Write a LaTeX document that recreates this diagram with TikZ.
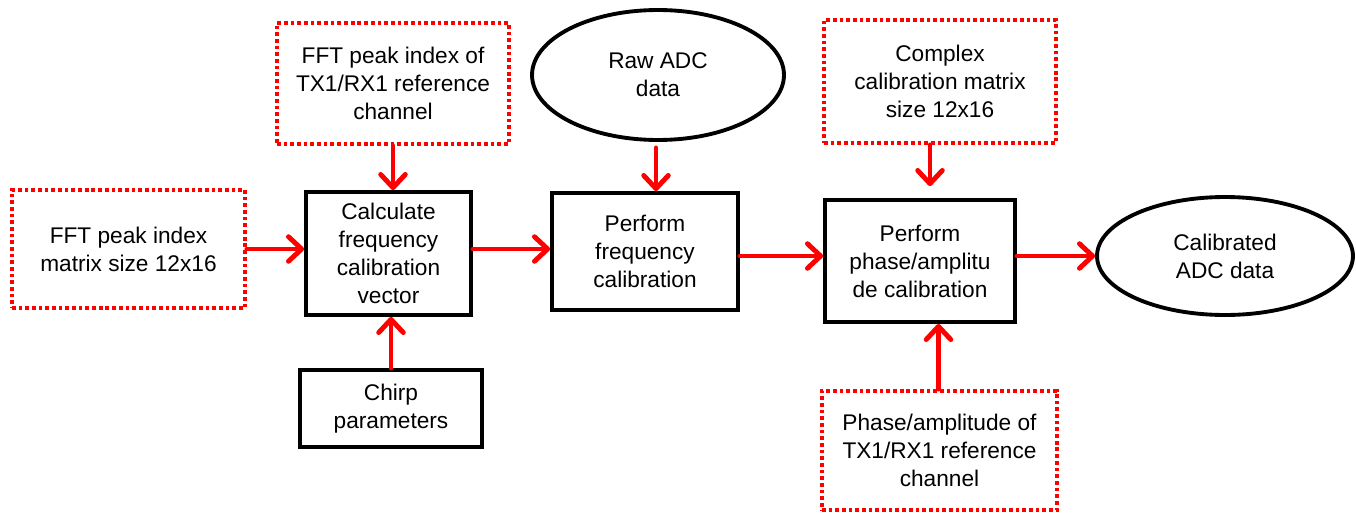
\documentclass[tikz,border=0pt]{standalone}
\usepackage{fontspec}
\setmainfont{Liberation Sans}
\usetikzlibrary{shapes.geometric,arrows.meta,calc}
\begin{document}
\begin{tikzpicture}[x=0.02cm,y=-0.02cm,
  every node/.style={font=\fontsize{12.9}{15.9}\selectfont, align=center, inner sep=0pt},
  dotbox/.style={draw=red, line width=2.2pt, dash pattern=on 2.1pt off 1.7pt, rectangle},
  procbox/.style={draw=black, line width=2.2pt, rectangle},
  databox/.style={draw=black, line width=2.2pt, ellipse},
  flow/.style={draw=red, line width=2.8pt, line cap=round, -{Straight Barb[length=7.5pt,width=14pt,line cap=round,line join=round]}}
]
\useasboundingbox (0,0) rectangle (1356,514);
\node[dotbox, minimum width=4.66cm, minimum height=2.36cm] (fftm) at (128.5,249) {FFT peak index\\matrix size 12x16};
\node[dotbox, minimum width=4.64cm, minimum height=2.42cm] (fftr) at (393,83.5) {FFT peak index of\\TX1/RX1 reference\\channel};
\node[procbox, minimum width=3.30cm, minimum height=2.46cm] (calc) at (388.5,253.5) {Calculate\\frequency\\calibration\\vector};
\node[procbox, minimum width=3.64cm, minimum height=1.54cm] (chirp) at (391,408.5) {Chirp\\parameters};
\node[databox, minimum width=5.04cm, minimum height=2.60cm] (raw) at (658,75) {Raw ADC\\data};
\node[procbox, minimum width=3.72cm, minimum height=2.34cm] (pfreq) at (645,251.5) {Perform\\frequency\\calibration};
\node[dotbox, minimum width=4.64cm, minimum height=2.46cm] (cplx) at (940,81.5) {Complex\\calibration matrix\\size 12x16};
\node[procbox, minimum width=3.80cm, minimum height=2.44cm] (phase) at (920,261) {Perform\\phase/amplitu\\de calibration};
\node[dotbox, minimum width=4.70cm, minimum height=2.38cm] (phref) at (939.5,450.5) {Phase/amplitude of\\TX1/RX1 reference\\channel};
\node[databox, minimum width=5.12cm, minimum height=2.36cm] (calib) at (1225,256) {Calibrated\\ADC data};

\draw[flow] (fftm.east) -- (calc.west |- fftm.east);
\draw[flow] (fftr.south) -- (calc.north -| fftr.south);
\draw[flow] (chirp.north) -- (calc.south -| chirp.north);
\draw[flow] (calc.east |- fftm.east) -- (pfreq.west |- fftm.east);
\draw[flow] ($(raw.south)+(-2,6)$) coordinate (rs) -- (pfreq.north -| rs);
\draw[flow] (pfreq.east |- calib.west) -- (phase.west |- calib.west);
\draw[flow] ($(cplx.south)+(-10,0)$) coordinate (cs) -- ($(phase.north -| cs)+(0,-12)$) coordinate (ce);
\draw[flow] ($(phref.north)+(-1,0)$) coordinate (ps) -- (phase.south -| ps);
\draw[flow] (phase.east |- calib.west) -- (calib.west);
\end{tikzpicture}
\end{document}
